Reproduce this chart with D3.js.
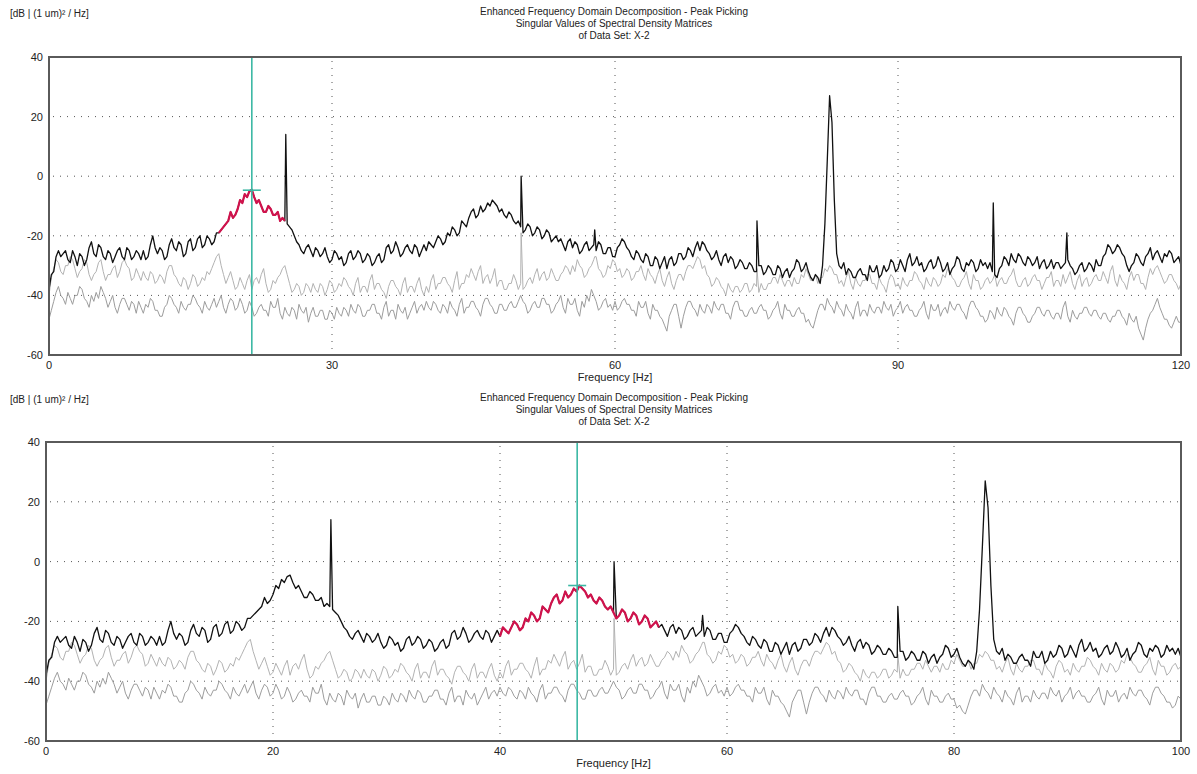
<!DOCTYPE html>
<html>
<head>
<meta charset="utf-8">
<script src="https://cdn.jsdelivr.net/npm/d3@7"></script>
<style>
  body { margin: 0; background: #fff; }
  text { font-family: "Liberation Sans", Arial, sans-serif; fill: #222; }
</style>
</head>
<body>
<div id="chart"></div>
<script>
// frequency step of the spectrum arrays (Hz)
const step = 0.25;

// 1st singular value (black), 0..120 Hz, one row = 10 Hz
const sv1 = [
  -38,-33,-32,-27,-25,-27,-26,-25,-28,-29,-25,-27,-30,-26,-27,-30,-28,-24,-22,-26, -27,-23,-24,-27,-28,-25,-26,-29,-27,-25,-24,-27,-28,-24,-25,-28,-27,-25,-26,-28,
  -25,-28,-27,-23,-20,-24,-26,-24,-25,-28,-27,-23,-21,-24,-25,-22,-23,-27,-26,-22, -21,-25,-24,-21,-20,-24,-23,-20,-21,-23,-22,-19,-19,-18,-17,-16,-15,-12,-14,-13,
  -11,-8,-9,-6,-7,-5,-4.5,-7,-9,-8,-10,-12,-12,-10,-11,-13,-13,-12,-15,-14, -15,-16,-17,-18,-20,-22,-23,-25,-26,-24,-23,-25,-27,-24,-25,-27,-26,-24,-27,-29,
  -28,-25,-26,-28,-27,-30,-29,-26,-25,-28,-27,-25,-26,-29,-28,-26,-27,-30,-29,-27, -26,-29,-28,-24,-23,-26,-25,-22,-24,-27,-26,-24,-23,-25,-26,-23,-24,-27,-25,-23,
  -25,-22,-23,-24,-22,-20,-21,-23,-22,-19,-20,-17,-18,-20,-19,-15,-16,-17,-14,-12, -11,-14,-13,-10,-12,-11,-9,-10,-8,-9,-10,-12,-11,-13,-14,-12,-13,-15,-16,-15,
  -17,-19,-18,-16,-17,-20,-19,-17,-18,-21,-20,-18,-19,-22,-21,-20,-22,-21,-23,-25, -22,-21,-24,-22,-23,-26,-25,-23,-22,-25,-24,-23,-25,-22,-23,-26,-26,-24,-24,-27,
  -27,-24,-23,-21,-22,-24,-25,-27,-28,-25,-26,-28,-29,-26,-27,-30,-30,-27,-28,-31, -29,-27,-31,-28,-27,-30,-29,-26,-26,-28,-27,-24,-25,-27,-24,-22,-25,-22,-23,-25,
  -26,-28,-27,-25,-28,-30,-27,-26,-29,-27,-28,-31,-30,-28,-29,-31,-31,-29,-30,-32, -32,-30,-30,-33,-32,-30,-31,-33,-33,-30,-31,-34,-32,-31,-34,-32,-31,-28,-29,-32,
  -31,-29,-32,-34,-35,-33,-34,-36,-30,-16,5,27,18,-8,-26,-30,-31,-29,-33,-31, -32,-34,-34,-32,-31,-33,-33,-35,-30,-32,-32,-30,-34,-33,-30,-32,-31,-28,-29,-32,
  -31,-28,-30,-32,-28,-26,-30,-29,-27,-30,-29,-32,-31,-29,-28,-31,-30,-27,-29,-32, -31,-29,-33,-31,-30,-27,-28,-31,-32,-29,-30,-28,-29,-32,-31,-28,-30,-29,-31,-29,
  -32,-33,-34,-31,-30,-27,-28,-30,-26,-28,-29,-26,-27,-29,-30,-27,-28,-30,-29,-27, -31,-29,-28,-31,-30,-28,-31,-29,-29,-31,-30,-29,-28,-30,-31,-33,-32,-30,-29,-32,
  -31,-29,-30,-32,-28,-30,-30,-27,-26,-23,-24,-26,-25,-23,-24,-26,-27,-30,-32,-30, -29,-26,-27,-29,-30,-27,-26,-24,-28,-26,-25,-27,-29,-26,-27,-25,-26,-29,-28,-27,
  -30
];
// narrow harmonic spikes of the 1st singular value [Hz, dB]
const sv1Peaks = [[25.1, 14], [50.05, 0], [57.85, -18], [75.05, -15], [100.1, -9], [107.9, -19]];

// 2nd singular value (light grey)
const sv2 = [
  -40,-34,-31,-28,-29,-32,-33,-30,-30,-27,-28,-31,-34,-32,-31,-28,-29,-33,-35,-33, -32,-29,-28,-32,-35,-33,-33,-31,-30,-34,-32,-29,-28,-30,-31,-35,-34,-31,-33,-35,
  -32,-34,-35,-32,-33,-36,-35,-33,-34,-36,-32,-30,-30,-33,-34,-36,-37,-34,-35,-38, -36,-33,-34,-37,-36,-34,-35,-32,-33,-31,-29,-27,-26,-30,-33,-36,-34,-32,-35,-38,
  -37,-34,-36,-38,-35,-33,-38,-35,-34,-36,-33,-31,-36,-39,-38,-35,-36,-34,-33,-31, -30,-33,-36,-39,-38,-36,-37,-40,-39,-36,-37,-39,-36,-38,-39,-36,-37,-40,-38,-35,
  -36,-39,-38,-36,-37,-34,-35,-37,-38,-40,-36,-34,-39,-37,-37,-39,-35,-33,-38,-36, -36,-38,-39,-41,-37,-35,-35,-37,-38,-40,-36,-34,-39,-37,-37,-39,-36,-34,-38,-40,
  -37,-39,-35,-33,-38,-36,-36,-34,-34,-36,-37,-39,-35,-32,-38,-36,-36,-33,-34,-31, -33,-35,-32,-30,-36,-34,-33,-36,-34,-31,-37,-35,-35,-38,-38,-36,-36,-33,-35,-38,
  -36,-38,-37,-35,-34,-36,-33,-31,-35,-33,-32,-35,-34,-31,-33,-35,-35,-33,-32,-30, -31,-33,-30,-32,-28,-30,-31,-34,-33,-31,-30,-28,-27,-31,-32,-34,-33,-30,-31,-28,
  -29,-32,-31,-34,-33,-31,-32,-35,-34,-32,-32,-30,-33,-35,-31,-33,-34,-36,-33,-31, -35,-37,-34,-32,-36,-38,-35,-33,-33,-35,-32,-30,-30,-31,-29,-27,-28,-31,-30,-33,
  -34,-37,-36,-34,-35,-37,-38,-40,-36,-38,-39,-37,-37,-39,-38,-36,-36,-39,-38,-36, -37,-39,-36,-38,-38,-36,-36,-34,-34,-36,-33,-35,-37,-35,-35,-37,-34,-36,-36,-33,
  -34,-31,-33,-35,-35,-33,-36,-34,-34,-31,-32,-30,-31,-33,-33,-36,-35,-37,-34,-32, -36,-38,-34,-36,-37,-35,-35,-33,-33,-36,-36,-38,-34,-36,-37,-39,-35,-33,-34,-37,
  -36,-38,-34,-36,-37,-35,-35,-32,-33,-35,-36,-38,-34,-36,-37,-34,-35,-37,-36,-33, -34,-31,-32,-34,-35,-37,-37,-35,-34,-32,-36,-38,-33,-35,-35,-38,-37,-35,-34,-36,
  -35,-33,-37,-35,-34,-36,-36,-34,-33,-31,-35,-37,-37,-35,-34,-37,-36,-34,-33,-35, -35,-38,-36,-34,-34,-32,-37,-35,-35,-37,-33,-36,-34,-32,-36,-38,-35,-33,-37,-35,
  -34,-37,-36,-34,-33,-35,-35,-32,-34,-36,-32,-30,-35,-37,-33,-35,-36,-38,-34,-32, -35,-33,-33,-36,-36,-38,-34,-31,-33,-31,-30,-32,-34,-36,-35,-33,-33,-35,-36,-38,
  -36
];
const sv2Peaks = [[50.05, -19], [57.85, -27], [75.05, -31]];

// 3rd singular value (grey)
const sv3 = [
  -48,-45,-42,-39,-37,-40,-41,-43,-39,-41,-43,-40,-40,-37,-38,-41,-42,-44,-40,-42, -39,-41,-37,-39,-41,-44,-42,-40,-44,-46,-43,-41,-41,-43,-45,-42,-43,-46,-42,-44,
  -46,-43,-44,-41,-42,-45,-45,-47,-47,-44,-43,-40,-41,-43,-44,-46,-42,-44,-45,-43, -43,-40,-41,-43,-44,-46,-42,-44,-45,-43,-41,-44,-42,-40,-44,-46,-43,-41,-42,-45,
  -44,-41,-43,-46,-45,-42,-44,-47,-46,-44,-43,-45,-45,-47,-42,-44,-44,-41,-46,-48, -44,-46,-47,-44,-45,-48,-43,-45,-46,-44,-49,-46,-44,-47,-47,-45,-45,-48,-48,-45,
  -46,-48,-44,-46,-47,-44,-45,-47,-43,-45,-46,-43,-44,-47,-47,-45,-45,-43,-43,-46, -46,-48,-44,-42,-47,-45,-45,-48,-43,-45,-46,-44,-48,-46,-44,-42,-46,-44,-43,-45,
  -42,-44,-45,-42,-43,-45,-46,-43,-44,-46,-42,-44,-45,-47,-43,-41,-46,-44,-44,-42, -42,-44,-45,-47,-43,-41,-41,-43,-44,-46,-46,-43,-43,-45,-45,-43,-42,-44,-44,-42,
  -40,-42,-43,-46,-45,-43,-42,-44,-44,-41,-41,-43,-43,-46,-45,-43,-42,-40,-44,-46, -41,-43,-43,-41,-45,-47,-42,-44,-40,-42,-38,-40,-42,-45,-44,-42,-41,-44,-43,-45,
  -42,-45,-44,-42,-41,-43,-43,-45,-45,-47,-42,-44,-44,-42,-46,-48,-43,-45,-45,-47, -48,-50,-52,-47,-45,-43,-43,-47,-51,-47,-44,-42,-42,-44,-45,-47,-43,-45,-46,-43,
  -44,-46,-42,-44,-45,-43,-43,-46,-46,-48,-44,-42,-42,-45,-45,-47,-47,-45,-44,-46, -46,-44,-43,-45,-45,-48,-47,-45,-44,-42,-46,-48,-43,-45,-45,-47,-47,-45,-44,-46,
  -46,-49,-48,-50,-51,-48,-45,-43,-43,-45,-41,-43,-44,-46,-42,-44,-45,-47,-43,-45, -46,-48,-44,-42,-47,-45,-45,-47,-43,-45,-46,-44,-44,-46,-42,-44,-45,-43,-47,-45,
  -44,-42,-46,-44,-43,-45,-45,-47,-47,-45,-44,-42,-46,-48,-43,-45,-45,-43,-47,-45, -44,-46,-42,-44,-45,-43,-43,-45,-46,-48,-44,-42,-42,-44,-45,-47,-47,-49,-48,-45,
  -46,-48,-44,-46,-47,-44,-45,-47,-48,-50,-46,-44,-44,-46,-47,-49,-49,-47,-46,-44, -44,-46,-47,-45,-45,-47,-48,-46,-46,-48,-44,-42,-47,-49,-45,-47,-48,-46,-46,-44,
  -44,-46,-47,-45,-45,-47,-48,-46,-46,-48,-49,-47,-47,-45,-45,-47,-48,-50,-46,-48, -49,-47,-51,-53,-55,-51,-48,-46,-45,-43,-41,-44,-46,-48,-48,-50,-51,-49,-47,-49,
  -49
];

const yTicks = [40, 20, 0, -20, -40, -60];
const titleLines = [
  "Enhanced Frequency Domain Decomposition - Peak Picking",
  "Singular Values of Spectral Density Matrices",
  "of Data Set: X-2"
];
const unitLabel = "[dB | (1 um)\u00b2 / Hz]";
const xLabel = "Frequency [Hz]";

// the two views: full range with pick at 21.5 Hz, zoomed with pick at 46.8 Hz
const panels = [
  { top: 0,   xMax: 120, xTicks: [0, 30, 60, 90, 120], pick: 21.5, pickDb: -4.7, band: [18, 25],
    plot: { left: 49, right: 1181, top: 57, bottom: 355 } },
  { top: 386, xMax: 100, xTicks: [0, 20, 40, 60, 80, 100], pick: 46.8, pickDb: -8, band: [40, 54],
    plot: { left: 46, right: 1181, top: 442, bottom: 741 } }
];

const W = 1197, H = 774;
const svg = d3.select("#chart").append("svg").attr("width", W).attr("height", H);

function toPoints(values, peaks) {
  const pts = values.map((v, i) => [i * step, v]);
  if (peaks) peaks.forEach(p => pts.push(p));
  return pts.sort((a, b) => a[0] - b[0]);
}

const series = [
  { pts: toPoints(sv3), color: "#9c9c9c", w: 1 },
  { pts: toPoints(sv2, sv2Peaks), color: "#b2b2b2", w: 1 },
  { pts: toPoints(sv1, sv1Peaks), color: "#111", w: 1.3 }
];

panels.forEach((p, k) => {
  const g = svg.append("g");
  const x = d3.scaleLinear().domain([0, p.xMax]).range([p.plot.left, p.plot.right]);
  const y = d3.scaleLinear().domain([-60, 40]).range([p.plot.bottom, p.plot.top]);

  // headings
  g.append("text").attr("x", 10).attr("y", p.top + 17).style("font-size", "10px").text(unitLabel);
  titleLines.forEach((t, i) => {
    g.append("text").attr("x", 614).attr("y", p.top + 15 + i * 12)
      .attr("text-anchor", "middle").style("font-size", "10px").text(t);
  });

  // dotted grid
  g.selectAll(".hgrid").data(yTicks.slice(1, -1)).join("line")
    .attr("x1", p.plot.left + 4).attr("x2", p.plot.right)
    .attr("y1", d => y(d)).attr("y2", d => y(d))
    .attr("stroke", "#555").attr("stroke-width", 1).attr("stroke-dasharray", "1,6");
  g.selectAll(".vgrid").data(p.xTicks.slice(1, -1)).join("line")
    .attr("x1", d => x(d)).attr("x2", d => x(d))
    .attr("y1", p.plot.top + 4).attr("y2", p.plot.bottom)
    .attr("stroke", "#555").attr("stroke-width", 1).attr("stroke-dasharray", "1,6");

  // spectra
  const line = d3.line().x(d => x(d[0])).y(d => y(d[1]));
  const clip = "clip" + k;
  svg.append("clipPath").attr("id", clip).append("rect")
    .attr("x", p.plot.left).attr("y", p.plot.top)
    .attr("width", p.plot.right - p.plot.left).attr("height", p.plot.bottom - p.plot.top);
  const lines = g.append("g").attr("clip-path", `url(#${clip})`);
  series.forEach(s => {
    lines.append("path").datum(s.pts.filter(d => d[0] <= p.xMax + step))
      .attr("d", line).attr("fill", "none")
      .attr("stroke", s.color).attr("stroke-width", s.w).attr("stroke-linejoin", "round");
  });

  // picked band in red (grid values only, spikes stay black)
  const band = sv1.map((v, i) => [i * step, v]).filter(d => d[0] >= p.band[0] && d[0] <= p.band[1]);
  lines.append("path").datum(band).attr("d", line).attr("fill", "none")
    .attr("stroke", "#d0124c").attr("stroke-width", 2.2).attr("stroke-linejoin", "round");

  // pick cursor
  lines.append("line").attr("x1", x(p.pick)).attr("x2", x(p.pick))
    .attr("y1", p.plot.top).attr("y2", p.plot.bottom)
    .attr("stroke", "#3bb8a4").attr("stroke-width", 1.6);
  lines.append("line").attr("x1", x(p.pick) - 9).attr("x2", x(p.pick) + 9)
    .attr("y1", y(p.pickDb)).attr("y2", y(p.pickDb))
    .attr("stroke", "#3bb8a4").attr("stroke-width", 1.6);

  // frame
  g.append("rect").attr("x", p.plot.left).attr("y", p.plot.top)
    .attr("width", p.plot.right - p.plot.left).attr("height", p.plot.bottom - p.plot.top)
    .attr("fill", "none").attr("stroke", "#5a5a5a").attr("stroke-width", 2);

  // tick labels
  g.selectAll(".ylab").data(yTicks).join("text")
    .attr("x", p.plot.left - 6).attr("y", d => y(d) + 4)
    .attr("text-anchor", "end").style("font-size", "11px").text(d => d);
  g.selectAll(".xlab").data(p.xTicks).join("text")
    .attr("x", d => x(d)).attr("y", p.plot.bottom + 14)
    .attr("text-anchor", "middle").style("font-size", "11px").text(d => d);
  g.append("text").attr("x", (p.plot.left + p.plot.right) / 2).attr("y", p.plot.bottom + 26)
    .attr("text-anchor", "middle").style("font-size", "11px").text(xLabel);
});
</script>
</body>
</html>
